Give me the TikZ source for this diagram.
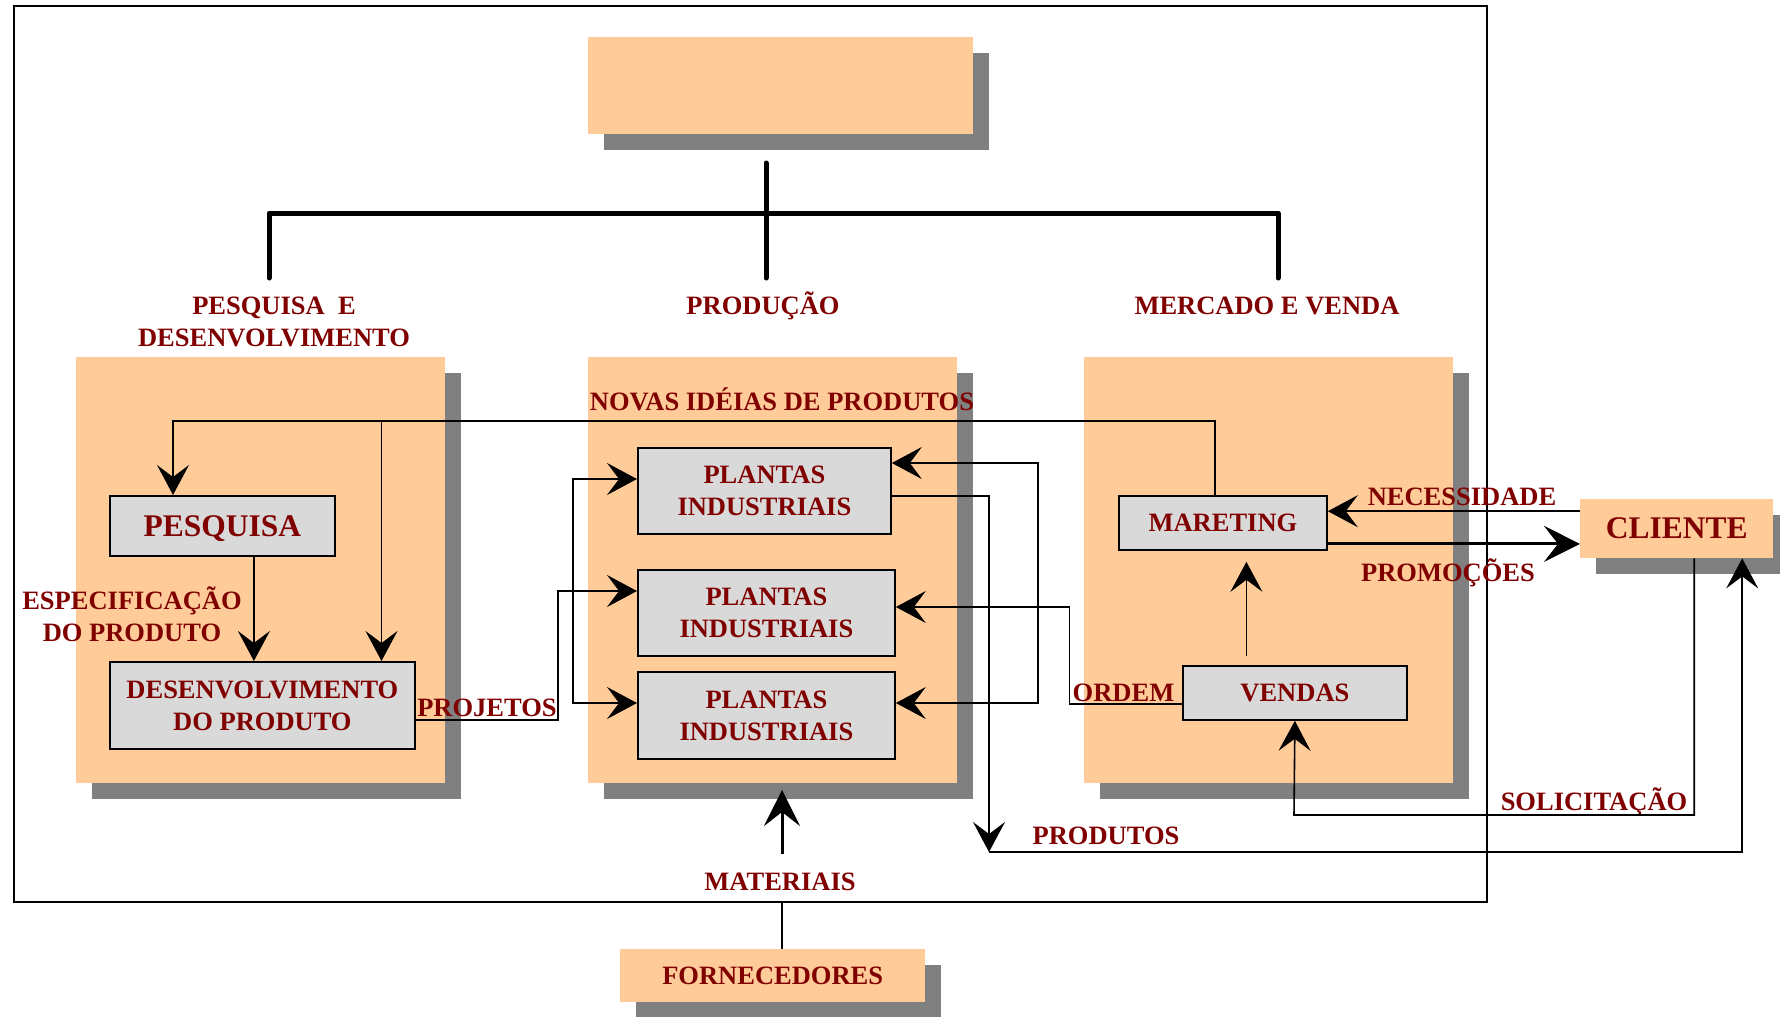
\documentclass[tikz,border=0pt]{standalone}
\usepackage{fontspec}
\setmainfont{Liberation Serif}
\usetikzlibrary{arrows.meta,shadows,calc}
\definecolor{orng}{HTML}{FFCC99}
\definecolor{shd}{HTML}{808080}
\definecolor{boxg}{HTML}{D9D9D9}
\definecolor{dred}{HTML}{800000}
\newcommand{\fnorm}{\fontsize{26.5}{32}\selectfont\bfseries}
\newcommand{\fbig}{\fontsize{31.5}{36}\selectfont\bfseries}
\begin{document}
\begin{tikzpicture}[x=1pt,y=-1pt,
  >={Stealth[length=30pt,width=32pt,inset=12pt]},
  panel/.style={fill=orng, inner sep=0pt, anchor=north west,
    drop shadow={shadow xshift=16pt, shadow yshift=-16pt, opacity=1, fill=shd}},
  gbox/.style={draw=black, line width=1.8pt, fill=boxg, inner sep=0pt, anchor=north west,
    text=dred, font=\fnorm, align=center},
  lbl/.style={text=dred, font=\fnorm, inner sep=0pt, align=center},
  lblone/.style={lbl, text height=17.5pt, text depth=0pt},
  conn/.style={line width=1.6pt},
  thickconn/.style={line width=3pt, -{Stealth[length=36pt,width=36pt,inset=14pt]}},
  tree/.style={line width=5pt, line cap=round, line join=round}
]
\useasboundingbox (0,0) rectangle (1780,1017);

% frame
\node[draw, line width=2pt, inner sep=0pt, anchor=north west,
      minimum width=1473pt, minimum height=896pt] (frame) at (13,5) {};

% panels
\node[panel, minimum width=385pt, minimum height=97pt] (top) at (588,37) {};
\node[panel, minimum width=369pt, minimum height=426pt] (pdpanel) at (76,357) {};
\node[panel, minimum width=369pt, minimum height=426pt] (prodpanel) at (588,357) {};
\node[panel, minimum width=369pt, minimum height=426pt] (mvpanel) at (1084,357) {};
\node[panel, minimum width=193pt, minimum height=59pt, text=dred, font=\fbig] (cliente) at (1580,499) {CLIENTE};
\node[panel, minimum width=305pt, minimum height=53pt, text=dred, font=\fnorm] (forn) at (620,949) {FORNECEDORES};

% tree
\coordinate (t0) at (766,163);
\coordinate (t1) at (766,278);
\coordinate (tl) at (269,278);
\coordinate (tlc) at (269,213);
\coordinate (trc) at (1278,213);
\coordinate (tr) at (1278,278);
\draw[tree] (t0) -- (t1);
\draw[tree] (tl) -- (tlc) -- (trc) -- (tr);

% labels
\node[lbl] (lpd) at (274,322) {PESQUISA~~E\\DESENVOLVIMENTO};
\node[lblone] (lprod) at (763,306) {PRODUÇÃO};
\node[lblone] (lmv) at (1267,306) {MERCADO E VENDA};
\node[lblone] (lnovas) at (782,402) {NOVAS IDÉIAS DE PRODUTOS};
\node[lbl] (lesp) at (132,614) {ESPECIFICAÇÃO\\DO PRODUTO};
\node[lblone] (lproj) at (487,708) {PROJETOS};
\node[lblone] (lordem) at (1123.5,693) {ORDEM};
\node[lblone] (lnec) at (1462,497) {NECESSIDADE};
\node[lblone] (lpromo) at (1448,573) {PROMOÇÕES};
\node[lblone] (lsol) at (1594,802) {SOLICITAÇÃO};
\node[lblone] (lprodutos) at (1106,836) {PRODUTOS};
\node[lblone] (lmat) at (780,882) {MATERIAIS};

% boxes
\node[gbox, minimum width=225pt, minimum height=60pt, font=\fbig, text height=21pt, text depth=0pt] (pesquisa) at (109,495) {PESQUISA};
\node[gbox, minimum width=305pt, minimum height=87pt] (desenv) at (109,661) {DESENVOLVIMENTO\\DO PRODUTO};
\node[gbox, minimum width=253pt, minimum height=86pt] (p1) at (637,447) {PLANTAS\\INDUSTRIAIS};
\node[gbox, minimum width=257pt, minimum height=86pt] (p2) at (637,569) {PLANTAS\\INDUSTRIAIS};
\node[gbox, minimum width=257pt, minimum height=87pt] (p3) at (637,671) {PLANTAS\\INDUSTRIAIS};
\node[gbox, minimum width=208pt, minimum height=54pt] (mareting) at (1118,495) {MARETING};
\node[gbox, minimum width=224pt, minimum height=54pt] (vendas) at (1182,665) {VENDAS};

% connectors
\coordinate (nvL) at (173,421);
\coordinate (nvB) at (381.5,421);
\draw[conn,->] ([xshift=-8pt]mareting.north) |- (nvL) -- (nvL |- pesquisa.north);
\draw[conn,->] (nvB) -- (nvB |- desenv.north);
\coordinate (ps) at ([xshift=31.5pt]pesquisa.south);
\draw[conn,->] (ps) -- (ps |- desenv.north);

\coordinate (pj) at (558,591);
\draw[conn,->] ([yshift=-14.5pt]desenv.east) -| (pj) -- (pj -| p2.west);
\coordinate (bl1) at (573,479);
\coordinate (bl3) at (573,703);
\draw[conn,<->] (bl1 -| p1.west) -- (bl1) -- (bl3) -- (bl3 -| p3.west);
\coordinate (br1) at (1038,463);
\coordinate (br3) at (1038,703);
\draw[conn,<->] (br1 -| p1.east) -- (br1) -- (br3) -- (br3 -| p3.east);
\coordinate (oc) at (1069.5,607);
\draw[conn,->] ([yshift=-11pt]vendas.west) -| (oc) -- (oc -| p2.east);

\coordinate (pd) at (989,852);
\draw[conn,->] ([yshift=-5pt]p1.east) -| (pd);
\coordinate (cl2) at ([xshift=65.5pt]cliente.south);
\draw[conn,->] (pd) -| (cl2);

\coordinate (sl) at (1294,815);
\draw[conn,->] ([xshift=17.5pt]cliente.south) |- (sl) -- (vendas.south);

\coordinate (vm) at ([xshift=-48.5pt]vendas.north);
\draw[conn,->,shorten <=9pt,shorten >=11pt] (vm) -- (vm |- mareting.south);

\coordinate (nc) at ([yshift=17.5pt]cliente.west);
\draw[conn,->] (nc) -- (nc -| mareting.east);
\coordinate (pm) at ([yshift=-21pt]mareting.east);
\draw[thickconn] (pm) -- (pm -| cliente.west);

\coordinate (mt1) at (782,854);
\coordinate (mt2) at (782,790);
\draw[thickconn] (mt1) -- (mt2);
\coordinate (fn) at ([xshift=9.5pt]forn.north);
\draw[conn] (fn) -- (fn |- frame.south);
\end{tikzpicture}
\end{document}
